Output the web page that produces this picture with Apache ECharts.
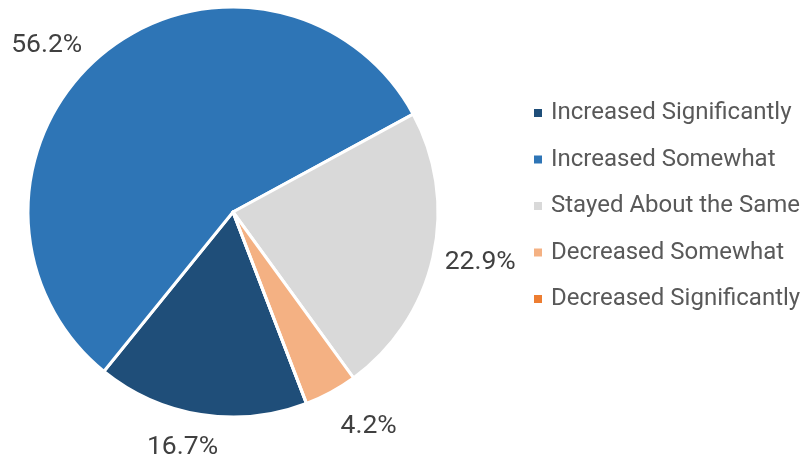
<!DOCTYPE html>
<html>
<head>
<meta charset="utf-8">
<script src="https://cdn.jsdelivr.net/npm/echarts@6/dist/echarts.min.js"></script>
<style>
  html, body { margin: 0; padding: 0; background: #fff; }
  #chart { width: 810px; height: 460px; }
</style>
</head>
<body>
<div id="chart"></div>
<script>
// categories and counts (percent shown = share of total)
let categories = ['Increased Significantly', 'Increased Somewhat', 'Stayed About the Same', 'Decreased Somewhat', 'Decreased Significantly'];
let counts = [8, 27, 11, 2, 0];
let colors = ['#1f4e79', '#2e75b6', '#d9d9d9', '#f4b183', '#ed7d31'];

// small nudges of the percent labels from echarts' outside position
let labelShiftX = [24, -7, -5, -1, 0];
let labelShiftY = [21, 0, 2, 24, 0];

let chart = echarts.init(document.getElementById('chart'));

let option = {
    color: colors,
    textStyle: { fontFamily: 'Roboto' },
    legend: {
        orient: 'vertical',
        left: 527,
        top: 94,
        itemWidth: 10,
        itemHeight: 10,
        itemGap: 18.5,
        icon: 'rect',
        textStyle: {
            fontSize: 24,
            lineHeight: 28,
            color: '#595959',
            fontFamily: 'Roboto',
            padding: [0, 0, 0, 3]
        },
        data: categories
    },
    series: [
        {
            type: 'pie',
            center: [233, 212],
            radius: 205,
            startAngle: 291,
            clockwise: true,
            avoidLabelOverlap: false,
            percentPrecision: 1,
            itemStyle: {
                borderColor: '#fff',
                borderWidth: 3
            },
            label: {
                show: true,
                position: 'outside',
                fontSize: 26.5,
                color: '#404040',
                fontFamily: 'Roboto',
                formatter: p => p.value > 0 ? p.percent.toFixed(1) + '%' : ''
            },
            labelLine: {
                show: false,
                length: 12,
                length2: 0
            },
            labelLayout: p => ({
                dx: labelShiftX[p.dataIndex],
                dy: labelShiftY[p.dataIndex]
            }),
            data: categories.map((c, i) => ({ name: c, value: counts[i] }))
        }
    ]
};

chart.setOption(option);
</script>
</body>
</html>
